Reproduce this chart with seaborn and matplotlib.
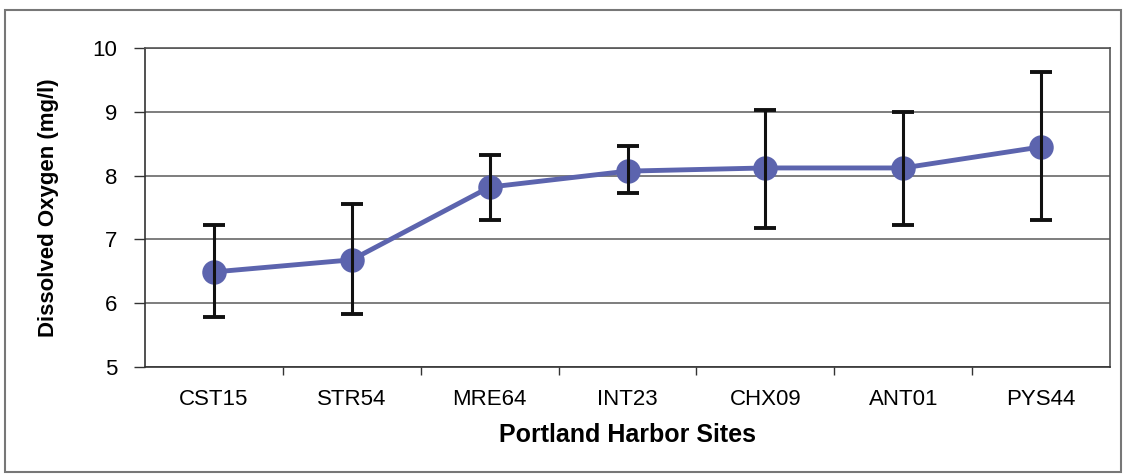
import matplotlib
matplotlib.use("Agg")
import matplotlib.pyplot as plt
import seaborn as sns
import numpy as np
from matplotlib.patches import Rectangle

sites = ["CST15", "STR54", "MRE64", "INT23", "CHX09", "ANT01", "PYS44"]
do_mean = [6.49, 6.68, 7.82, 8.07, 8.12, 8.12, 8.45]
do_upper = [7.23, 7.55, 8.32, 8.47, 9.03, 8.99, 9.62]
do_lower = [5.78, 5.83, 7.30, 7.72, 7.18, 7.22, 7.30]
yticks = [5, 6, 7, 8, 9, 10]

sns.set_theme(style="white")
plt.rcParams['font.family'] = ['Liberation Sans', 'DejaVu Sans']
plt.rcParams['text.color'] = 'black'
plt.rcParams['axes.labelcolor'] = 'black'
plt.rcParams['xtick.color'] = 'black'
plt.rcParams['ytick.color'] = 'black'

fig = plt.figure(figsize=(11.23, 4.74), dpi=100)
ax = fig.add_axes([145/1123, 1-367/474, (1110-145)/1123, (367-48)/474])

line_color = "#5c64ae"
sns.pointplot(x=sites, y=do_mean, ax=ax, color=line_color, markers="o",
              markersize=15, linewidth=3.5, errorbar=None, zorder=3)

x = np.arange(len(sites))
mean = np.array(do_mean)
yerr = np.vstack([mean - np.array(do_lower), np.array(do_upper) - mean])
ax.errorbar(x, mean, yerr=yerr, fmt="none", ecolor="#111111", elinewidth=2.2,
            capsize=8, capthick=2.8, zorder=4)

ax.set_xlim(-0.5, len(sites) - 0.5)
ax.set_ylim(5, 10)
ax.set_yticks(yticks)
ax.set_yticklabels([str(t) for t in yticks], fontsize=16)
ax.yaxis.grid(True, color="#5a5a5a", linewidth=1.1)
ax.set_axisbelow(True)

ax.set_xticks(x)
ax.set_xticklabels(sites, fontsize=16)
ax.set_xticks(np.arange(0.5, len(sites) - 0.5, 1), minor=True)
ax.tick_params(axis="x", which="major", length=0, pad=16)
ax.tick_params(axis="x", which="minor", length=6, width=1, color="#333333", direction="out", bottom=True)
ax.tick_params(axis="y", which="major", length=8, width=1, color="#333333", direction="out", left=True, pad=12)

for s in ax.spines.values():
    s.set_color("#333333")
    s.set_linewidth(1.2)
ax.spines["top"].set_color("#555555")
ax.spines["right"].set_color("#555555")

ax.set_xlabel("Portland Harbor Sites", fontsize=18, fontweight="bold", labelpad=9)
ax.set_ylabel("Dissolved Oxygen (mg/l)", fontsize=16, fontweight="bold", labelpad=24)

fig.patches.append(Rectangle((5/1123, 2/474), (1121-5)/1123, (462)/474,
                             transform=fig.transFigure, fill=False,
                             edgecolor="#777777", linewidth=1.5))

fig.savefig("out.png", dpi=100)
